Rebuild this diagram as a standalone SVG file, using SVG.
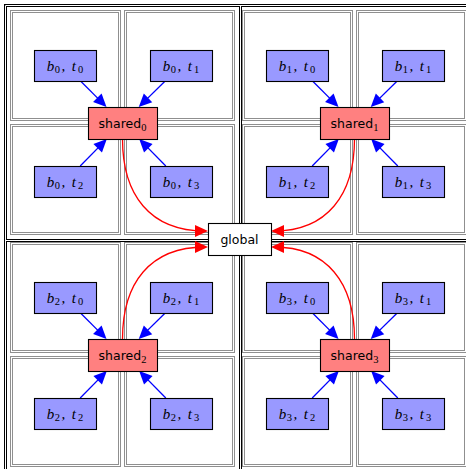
<svg xmlns="http://www.w3.org/2000/svg" width="466" height="469" viewBox="0 0 466 469">
  <style>
    .frame { fill: none; stroke: #000; stroke-width: 3; }
    .frame-gap { fill: none; stroke: #fff; stroke-width: 1; }
    .cell { fill: none; stroke: #8f8f8f; stroke-width: 3; }
    .cell-gap { fill: none; stroke: #fff; stroke-width: 1; }
    .thread { fill: #9999ff; stroke: #000; stroke-width: 1.1; }
    .shared { fill: #ff8080; stroke: #000; stroke-width: 1.1; }
    .global { fill: #fff; stroke: #000; stroke-width: 1.1; }
    .load { fill: none; stroke: #0000ff; stroke-width: 1.3; marker-end: url(#headBlue); }
    .flush { fill: none; stroke: #ff0000; stroke-width: 1.3; marker-end: url(#headRed); }
    .mi { font-family: "Liberation Serif", "DejaVu Serif", serif; font-style: italic; font-size: 15px; fill: #000; }
    .num { font-family: "Liberation Serif", "DejaVu Serif", serif; font-style: normal; font-size: 10.5px; }
    .sans { font-family: "DejaVu Sans", "Liberation Sans", sans-serif; font-size: 12.5px; fill: #000; }
  </style>
  <defs>
    <marker id="headBlue" markerUnits="userSpaceOnUse" viewBox="-11 -7 14 14" markerWidth="14" markerHeight="14" refX="0" refY="0" orient="auto">
      <path d="M3,0 L-10,-6 L-10,6 Z" fill="#0000ff"/>
    </marker>
    <marker id="headRed" markerUnits="userSpaceOnUse" viewBox="-11 -7 14 14" markerWidth="14" markerHeight="14" refX="0" refY="0" orient="auto">
      <path d="M3,0 L-10,-6 L-10,6 Z" fill="#ff0000"/>
    </marker>
  </defs>

  <rect width="466" height="469" fill="#fff"/>

  <!-- block grid: double black lines -->
  <g id="blocks">
    <path class="frame" d="M5.5,475 V5.5 H475 M240.5,5 V475 M5,240.5 H475"/>
    <path class="frame-gap" d="M5.5,475 V5.5 H475 M240.5,5 V475 M5,240.5 H475"/>
  </g>

  <!-- thread cells: double grey lines -->
  <g id="cells">
    <g class="cell">
      <rect x="11.5" y="11.5" width="108" height="108"/><rect x="125.5" y="11.5" width="108" height="108"/>
      <rect x="11.5" y="125.5" width="108" height="108"/><rect x="125.5" y="125.5" width="108" height="108"/>
      <rect x="243.5" y="11.5" width="108" height="108"/><rect x="357.5" y="11.5" width="108" height="108"/>
      <rect x="243.5" y="125.5" width="108" height="108"/><rect x="357.5" y="125.5" width="108" height="108"/>
      <rect x="11.5" y="243.5" width="108" height="108"/><rect x="125.5" y="243.5" width="108" height="108"/>
      <rect x="11.5" y="357.5" width="108" height="108"/><rect x="125.5" y="357.5" width="108" height="108"/>
      <rect x="243.5" y="243.5" width="108" height="108"/><rect x="357.5" y="243.5" width="108" height="108"/>
      <rect x="243.5" y="357.5" width="108" height="108"/><rect x="357.5" y="357.5" width="108" height="108"/>
    </g>
    <g class="cell-gap">
      <rect x="11.5" y="11.5" width="108" height="108"/><rect x="125.5" y="11.5" width="108" height="108"/>
      <rect x="11.5" y="125.5" width="108" height="108"/><rect x="125.5" y="125.5" width="108" height="108"/>
      <rect x="243.5" y="11.5" width="108" height="108"/><rect x="357.5" y="11.5" width="108" height="108"/>
      <rect x="243.5" y="125.5" width="108" height="108"/><rect x="357.5" y="125.5" width="108" height="108"/>
      <rect x="11.5" y="243.5" width="108" height="108"/><rect x="125.5" y="243.5" width="108" height="108"/>
      <rect x="11.5" y="357.5" width="108" height="108"/><rect x="125.5" y="357.5" width="108" height="108"/>
      <rect x="243.5" y="243.5" width="108" height="108"/><rect x="357.5" y="243.5" width="108" height="108"/>
      <rect x="243.5" y="357.5" width="108" height="108"/><rect x="357.5" y="357.5" width="108" height="108"/>
    </g>
  </g>

  <!-- connectors -->
  <g id="connectors">
    <!-- threads to shared memory -->
    <path class="load" d="M80.5,81 L104.4,104.9"/>
    <path class="load" d="M165.2,81 L140.9,104.9"/>
    <path class="load" d="M80.2,166 L104.7,141.1"/>
    <path class="load" d="M165.8,166 L141.3,141.1"/>

    <path class="load" d="M312.5,81 L336.4,104.9"/>
    <path class="load" d="M397.2,81 L372.9,104.9"/>
    <path class="load" d="M312.2,166 L336.7,141.1"/>
    <path class="load" d="M397.8,166 L373.3,141.1"/>

    <path class="load" d="M80.5,313 L104.4,336.9"/>
    <path class="load" d="M165.2,313 L140.9,336.9"/>
    <path class="load" d="M80.2,398 L104.7,373.1"/>
    <path class="load" d="M165.8,398 L141.3,373.1"/>

    <path class="load" d="M312.5,313 L336.4,336.9"/>
    <path class="load" d="M397.2,313 L372.9,336.9"/>
    <path class="load" d="M312.2,398 L336.7,373.1"/>
    <path class="load" d="M397.8,398 L373.3,373.1"/>

    <!-- shared memory to global -->
    <path class="flush" d="M122.5,139 C122.5,195 150,231 205,231"/>
    <path class="flush" d="M354.5,139 C354.5,195 327,231 274,231"/>
    <path class="flush" d="M122.5,339 C122.5,283 150,247 205,247"/>
    <path class="flush" d="M354.5,339 C354.5,283 327,247 274,247"/>
  </g>

  <!-- block 0 -->
  <g id="b0t0"><rect class="thread" x="34.5" y="50.5" width="62" height="31"/>
    <text class="mi" x="65" y="70.5" text-anchor="middle">b<tspan class="num" dx="0.5" dy="2.5">0</tspan><tspan dx="1.5" dy="-2.5">,</tspan><tspan dx="6.5">t</tspan><tspan class="num" dx="2" dy="2.5">0</tspan></text></g>
  <g id="b0t1"><rect class="thread" x="150.5" y="50.5" width="62" height="31"/>
    <text class="mi" x="181" y="70.5" text-anchor="middle">b<tspan class="num" dx="0.5" dy="2.5">0</tspan><tspan dx="1.5" dy="-2.5">,</tspan><tspan dx="6.5">t</tspan><tspan class="num" dx="2" dy="2.5">1</tspan></text></g>
  <g id="b0t2"><rect class="thread" x="34.5" y="166.5" width="62" height="31"/>
    <text class="mi" x="65" y="186.5" text-anchor="middle">b<tspan class="num" dx="0.5" dy="2.5">0</tspan><tspan dx="1.5" dy="-2.5">,</tspan><tspan dx="6.5">t</tspan><tspan class="num" dx="2" dy="2.5">2</tspan></text></g>
  <g id="b0t3"><rect class="thread" x="150.5" y="166.5" width="62" height="31"/>
    <text class="mi" x="181" y="186.5" text-anchor="middle">b<tspan class="num" dx="0.5" dy="2.5">0</tspan><tspan dx="1.5" dy="-2.5">,</tspan><tspan dx="6.5">t</tspan><tspan class="num" dx="2" dy="2.5">3</tspan></text></g>
  <g id="shared0"><rect class="shared" x="88.5" y="107.5" width="69" height="32"/>
    <text class="sans" x="122.5" y="128" text-anchor="middle">shared<tspan class="num" dy="2.5">0</tspan></text></g>

  <!-- block 1 -->
  <g id="b1t0"><rect class="thread" x="266.5" y="50.5" width="62" height="31"/>
    <text class="mi" x="297" y="70.5" text-anchor="middle">b<tspan class="num" dx="0.5" dy="2.5">1</tspan><tspan dx="1.5" dy="-2.5">,</tspan><tspan dx="6.5">t</tspan><tspan class="num" dx="2" dy="2.5">0</tspan></text></g>
  <g id="b1t1"><rect class="thread" x="382.5" y="50.5" width="62" height="31"/>
    <text class="mi" x="413" y="70.5" text-anchor="middle">b<tspan class="num" dx="0.5" dy="2.5">1</tspan><tspan dx="1.5" dy="-2.5">,</tspan><tspan dx="6.5">t</tspan><tspan class="num" dx="2" dy="2.5">1</tspan></text></g>
  <g id="b1t2"><rect class="thread" x="266.5" y="166.5" width="62" height="31"/>
    <text class="mi" x="297" y="186.5" text-anchor="middle">b<tspan class="num" dx="0.5" dy="2.5">1</tspan><tspan dx="1.5" dy="-2.5">,</tspan><tspan dx="6.5">t</tspan><tspan class="num" dx="2" dy="2.5">2</tspan></text></g>
  <g id="b1t3"><rect class="thread" x="382.5" y="166.5" width="62" height="31"/>
    <text class="mi" x="413" y="186.5" text-anchor="middle">b<tspan class="num" dx="0.5" dy="2.5">1</tspan><tspan dx="1.5" dy="-2.5">,</tspan><tspan dx="6.5">t</tspan><tspan class="num" dx="2" dy="2.5">3</tspan></text></g>
  <g id="shared1"><rect class="shared" x="320.5" y="107.5" width="69" height="32"/>
    <text class="sans" x="354.5" y="128" text-anchor="middle">shared<tspan class="num" dy="2.5">1</tspan></text></g>

  <!-- block 2 -->
  <g id="b2t0"><rect class="thread" x="34.5" y="282.5" width="62" height="31"/>
    <text class="mi" x="65" y="302.5" text-anchor="middle">b<tspan class="num" dx="0.5" dy="2.5">2</tspan><tspan dx="1.5" dy="-2.5">,</tspan><tspan dx="6.5">t</tspan><tspan class="num" dx="2" dy="2.5">0</tspan></text></g>
  <g id="b2t1"><rect class="thread" x="150.5" y="282.5" width="62" height="31"/>
    <text class="mi" x="181" y="302.5" text-anchor="middle">b<tspan class="num" dx="0.5" dy="2.5">2</tspan><tspan dx="1.5" dy="-2.5">,</tspan><tspan dx="6.5">t</tspan><tspan class="num" dx="2" dy="2.5">1</tspan></text></g>
  <g id="b2t2"><rect class="thread" x="34.5" y="398.5" width="62" height="31"/>
    <text class="mi" x="65" y="418.5" text-anchor="middle">b<tspan class="num" dx="0.5" dy="2.5">2</tspan><tspan dx="1.5" dy="-2.5">,</tspan><tspan dx="6.5">t</tspan><tspan class="num" dx="2" dy="2.5">2</tspan></text></g>
  <g id="b2t3"><rect class="thread" x="150.5" y="398.5" width="62" height="31"/>
    <text class="mi" x="181" y="418.5" text-anchor="middle">b<tspan class="num" dx="0.5" dy="2.5">2</tspan><tspan dx="1.5" dy="-2.5">,</tspan><tspan dx="6.5">t</tspan><tspan class="num" dx="2" dy="2.5">3</tspan></text></g>
  <g id="shared2"><rect class="shared" x="88.5" y="339.5" width="69" height="32"/>
    <text class="sans" x="122.5" y="360" text-anchor="middle">shared<tspan class="num" dy="2.5">2</tspan></text></g>

  <!-- block 3 -->
  <g id="b3t0"><rect class="thread" x="266.5" y="282.5" width="62" height="31"/>
    <text class="mi" x="297" y="302.5" text-anchor="middle">b<tspan class="num" dx="0.5" dy="2.5">3</tspan><tspan dx="1.5" dy="-2.5">,</tspan><tspan dx="6.5">t</tspan><tspan class="num" dx="2" dy="2.5">0</tspan></text></g>
  <g id="b3t1"><rect class="thread" x="382.5" y="282.5" width="62" height="31"/>
    <text class="mi" x="413" y="302.5" text-anchor="middle">b<tspan class="num" dx="0.5" dy="2.5">3</tspan><tspan dx="1.5" dy="-2.5">,</tspan><tspan dx="6.5">t</tspan><tspan class="num" dx="2" dy="2.5">1</tspan></text></g>
  <g id="b3t2"><rect class="thread" x="266.5" y="398.5" width="62" height="31"/>
    <text class="mi" x="297" y="418.5" text-anchor="middle">b<tspan class="num" dx="0.5" dy="2.5">3</tspan><tspan dx="1.5" dy="-2.5">,</tspan><tspan dx="6.5">t</tspan><tspan class="num" dx="2" dy="2.5">2</tspan></text></g>
  <g id="b3t3"><rect class="thread" x="382.5" y="398.5" width="62" height="31"/>
    <text class="mi" x="413" y="418.5" text-anchor="middle">b<tspan class="num" dx="0.5" dy="2.5">3</tspan><tspan dx="1.5" dy="-2.5">,</tspan><tspan dx="6.5">t</tspan><tspan class="num" dx="2" dy="2.5">3</tspan></text></g>
  <g id="shared3"><rect class="shared" x="320.5" y="339.5" width="69" height="32"/>
    <text class="sans" x="354.5" y="360" text-anchor="middle">shared<tspan class="num" dy="2.5">3</tspan></text></g>

  <!-- global memory -->
  <g id="global"><rect class="global" x="208.5" y="223.5" width="63" height="32"/>
    <text class="sans" x="239.5" y="243.5" text-anchor="middle">global</text></g>
</svg>
